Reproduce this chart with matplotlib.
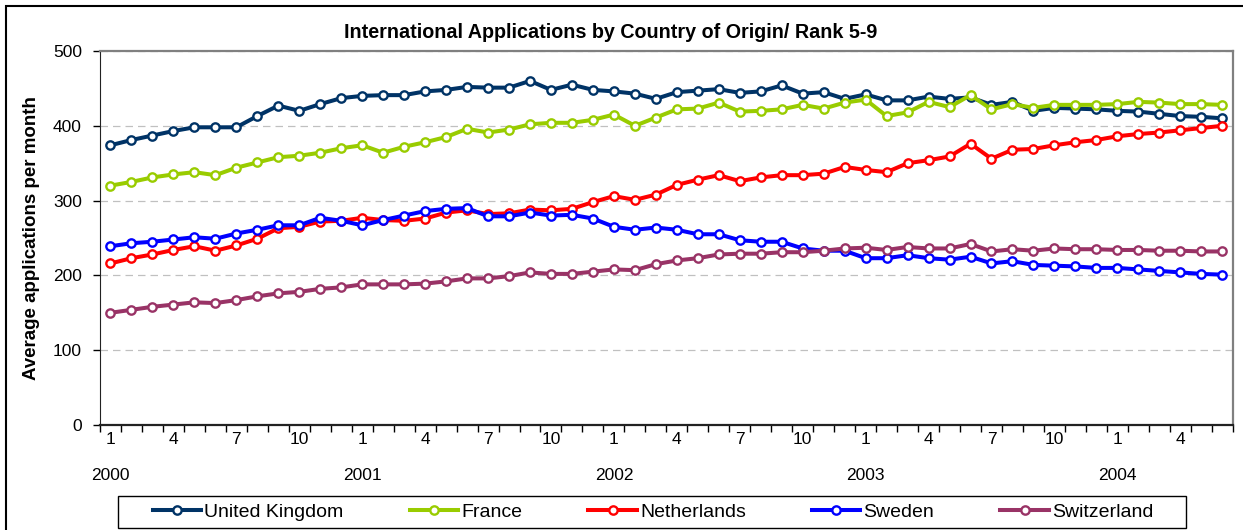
import numpy as np
import matplotlib
matplotlib.use("Agg")
import matplotlib.pyplot as plt
from matplotlib.patches import Rectangle
from matplotlib.transforms import blended_transform_factory

plt.rcParams['font.family'] = ['Liberation Sans', 'DejaVu Sans']

# monthly values, Jan 2000 .. Jun 2004 (54 months)
uk = [374, 381, 387, 393, 398, 398, 398, 413, 427, 420, 429, 437, 440, 441,
      441, 446, 448, 452, 451, 451, 460, 448, 455, 448, 446, 443, 436, 445,
      447, 449, 444, 446, 454, 443, 445, 436, 442, 434, 434, 439, 436, 438,
      428, 432, 420, 424, 423, 422, 420, 419, 416, 413, 412, 410]
france = [320, 325, 331, 335, 338, 334, 344, 351, 358, 360, 364, 370, 374, 364,
          372, 378, 385, 396, 391, 395, 402, 404, 404, 408, 415, 400, 411, 422,
          423, 431, 419, 420, 422, 428, 423, 431, 435, 413, 418, 432, 425, 441,
          422, 429, 424, 428, 428, 428, 429, 432, 431, 429, 429, 428]
netherlands = [216, 223, 228, 234, 239, 233, 240, 249, 263, 265, 272, 273, 277, 274,
               273, 276, 284, 287, 282, 283, 288, 287, 289, 298, 306, 301, 308, 321,
               328, 334, 326, 331, 334, 334, 336, 345, 341, 338, 350, 354, 359, 376,
               356, 368, 369, 374, 378, 381, 386, 389, 391, 394, 397, 400]
sweden = [239, 243, 245, 248, 251, 249, 256, 261, 267, 267, 277, 273, 267, 274,
          280, 286, 289, 290, 279, 279, 284, 280, 281, 276, 265, 261, 264, 261,
          255, 255, 247, 245, 245, 236, 233, 233, 223, 223, 227, 223, 221, 225,
          216, 219, 214, 213, 212, 210, 210, 208, 206, 204, 202, 201]
switzerland = [150, 154, 158, 161, 164, 163, 167, 172, 176, 178, 182, 184, 188, 188,
               188, 189, 192, 196, 196, 199, 204, 202, 202, 205, 208, 207, 215, 220,
               223, 228, 229, 229, 231, 231, 233, 236, 237, 234, 238, 236, 236, 242,
               232, 235, 233, 236, 235, 235, 234, 234, 233, 233, 232, 232]

names = ["United Kingdom", "France", "Netherlands", "Sweden", "Switzerland"]
colors = ["#003366", "#99CC00", "#FF0000", "#0000FF", "#993366"]
series = [uk, france, netherlands, sweden, switzerland]
years = ["2000", "2001", "2002", "2003", "2004"]

n = len(uk)
x = np.arange(n)

W, H = 1243, 530
fig = plt.figure(figsize=(W / 100, H / 100), dpi=100)
ax = fig.add_axes([100/W, 105/H, 1132.7/W, 374/H])

for name, col, vals in zip(names, colors, series):
    ax.plot(x, vals, color=col, lw=2.9, marker='o', ms=6, mfc='white',
            mec=col, mew=1.7, label=name, solid_joinstyle='round')

ax.set_xlim(-0.5, n - 0.5)
ax.set_ylim(0, 500)
ax.set_yticks(range(0, 501, 100))
ax.tick_params(axis='y', length=5, width=1, labelsize=12.5, pad=8)

# tick marks between months, labels every third month
ax.set_xticks(np.arange(-0.5, n, 1.0))
ax.set_xticklabels([])
ax.tick_params(axis='x', which='major', length=5, width=1)
ax.set_xticks(x[::3], minor=True)
ax.set_xticklabels([str(i % 12 + 1) for i in x[::3]], minor=True)
ax.tick_params(axis='x', which='minor', length=0, labelsize=12.5, pad=5)

trans = blended_transform_factory(ax.transData, fig.transFigure)
for k, yr in enumerate(years):
    ax.text(12 * k, 1 - 475/H, yr, transform=trans, ha='center', va='center',
            fontsize=12.5)

ax.yaxis.grid(True, ls=(0, (6, 4)), color='#c0c0c0', lw=0.9)
ax.set_axisbelow(True)
for s in ['top', 'right']:
    ax.spines[s].set_color('#808080')
    ax.spines[s].set_linewidth(1.6)
ax.spines['left'].set_color('#222222')
ax.spines['bottom'].set_color('#222222')
ax.spines['bottom'].set_linewidth(1.6)

fig.text(32/W, 1 - 238/H, "Average applications per month", rotation=90,
         ha='center', va='center', fontsize=13.5, fontweight='bold')
fig.text(611/W, 1 - 32/H, "International Applications by Country of Origin/ Rank 5-9",
         ha='center', va='center', fontsize=14.2, fontweight='bold')

# legend without frame, box drawn separately
leg = fig.legend(loc='center', bbox_to_anchor=(653/W, 1 - 512/H), ncol=5,
                 fontsize=14, frameon=False, handlelength=2.5,
                 handletextpad=0.15, columnspacing=3.4, borderpad=0,
                 borderaxespad=0)
fig.patches.append(Rectangle((118/W, 2/H), 1068/W, 32/H, transform=fig.transFigure,
                             fill=False, edgecolor='black', lw=1.0))

fig.patches.append(Rectangle((6/W, -0.05), 1.05, 1 - 6/H + 0.05,
                             transform=fig.transFigure, fill=False,
                             edgecolor='black', lw=1.5))

fig.savefig("out.png", dpi=100)
